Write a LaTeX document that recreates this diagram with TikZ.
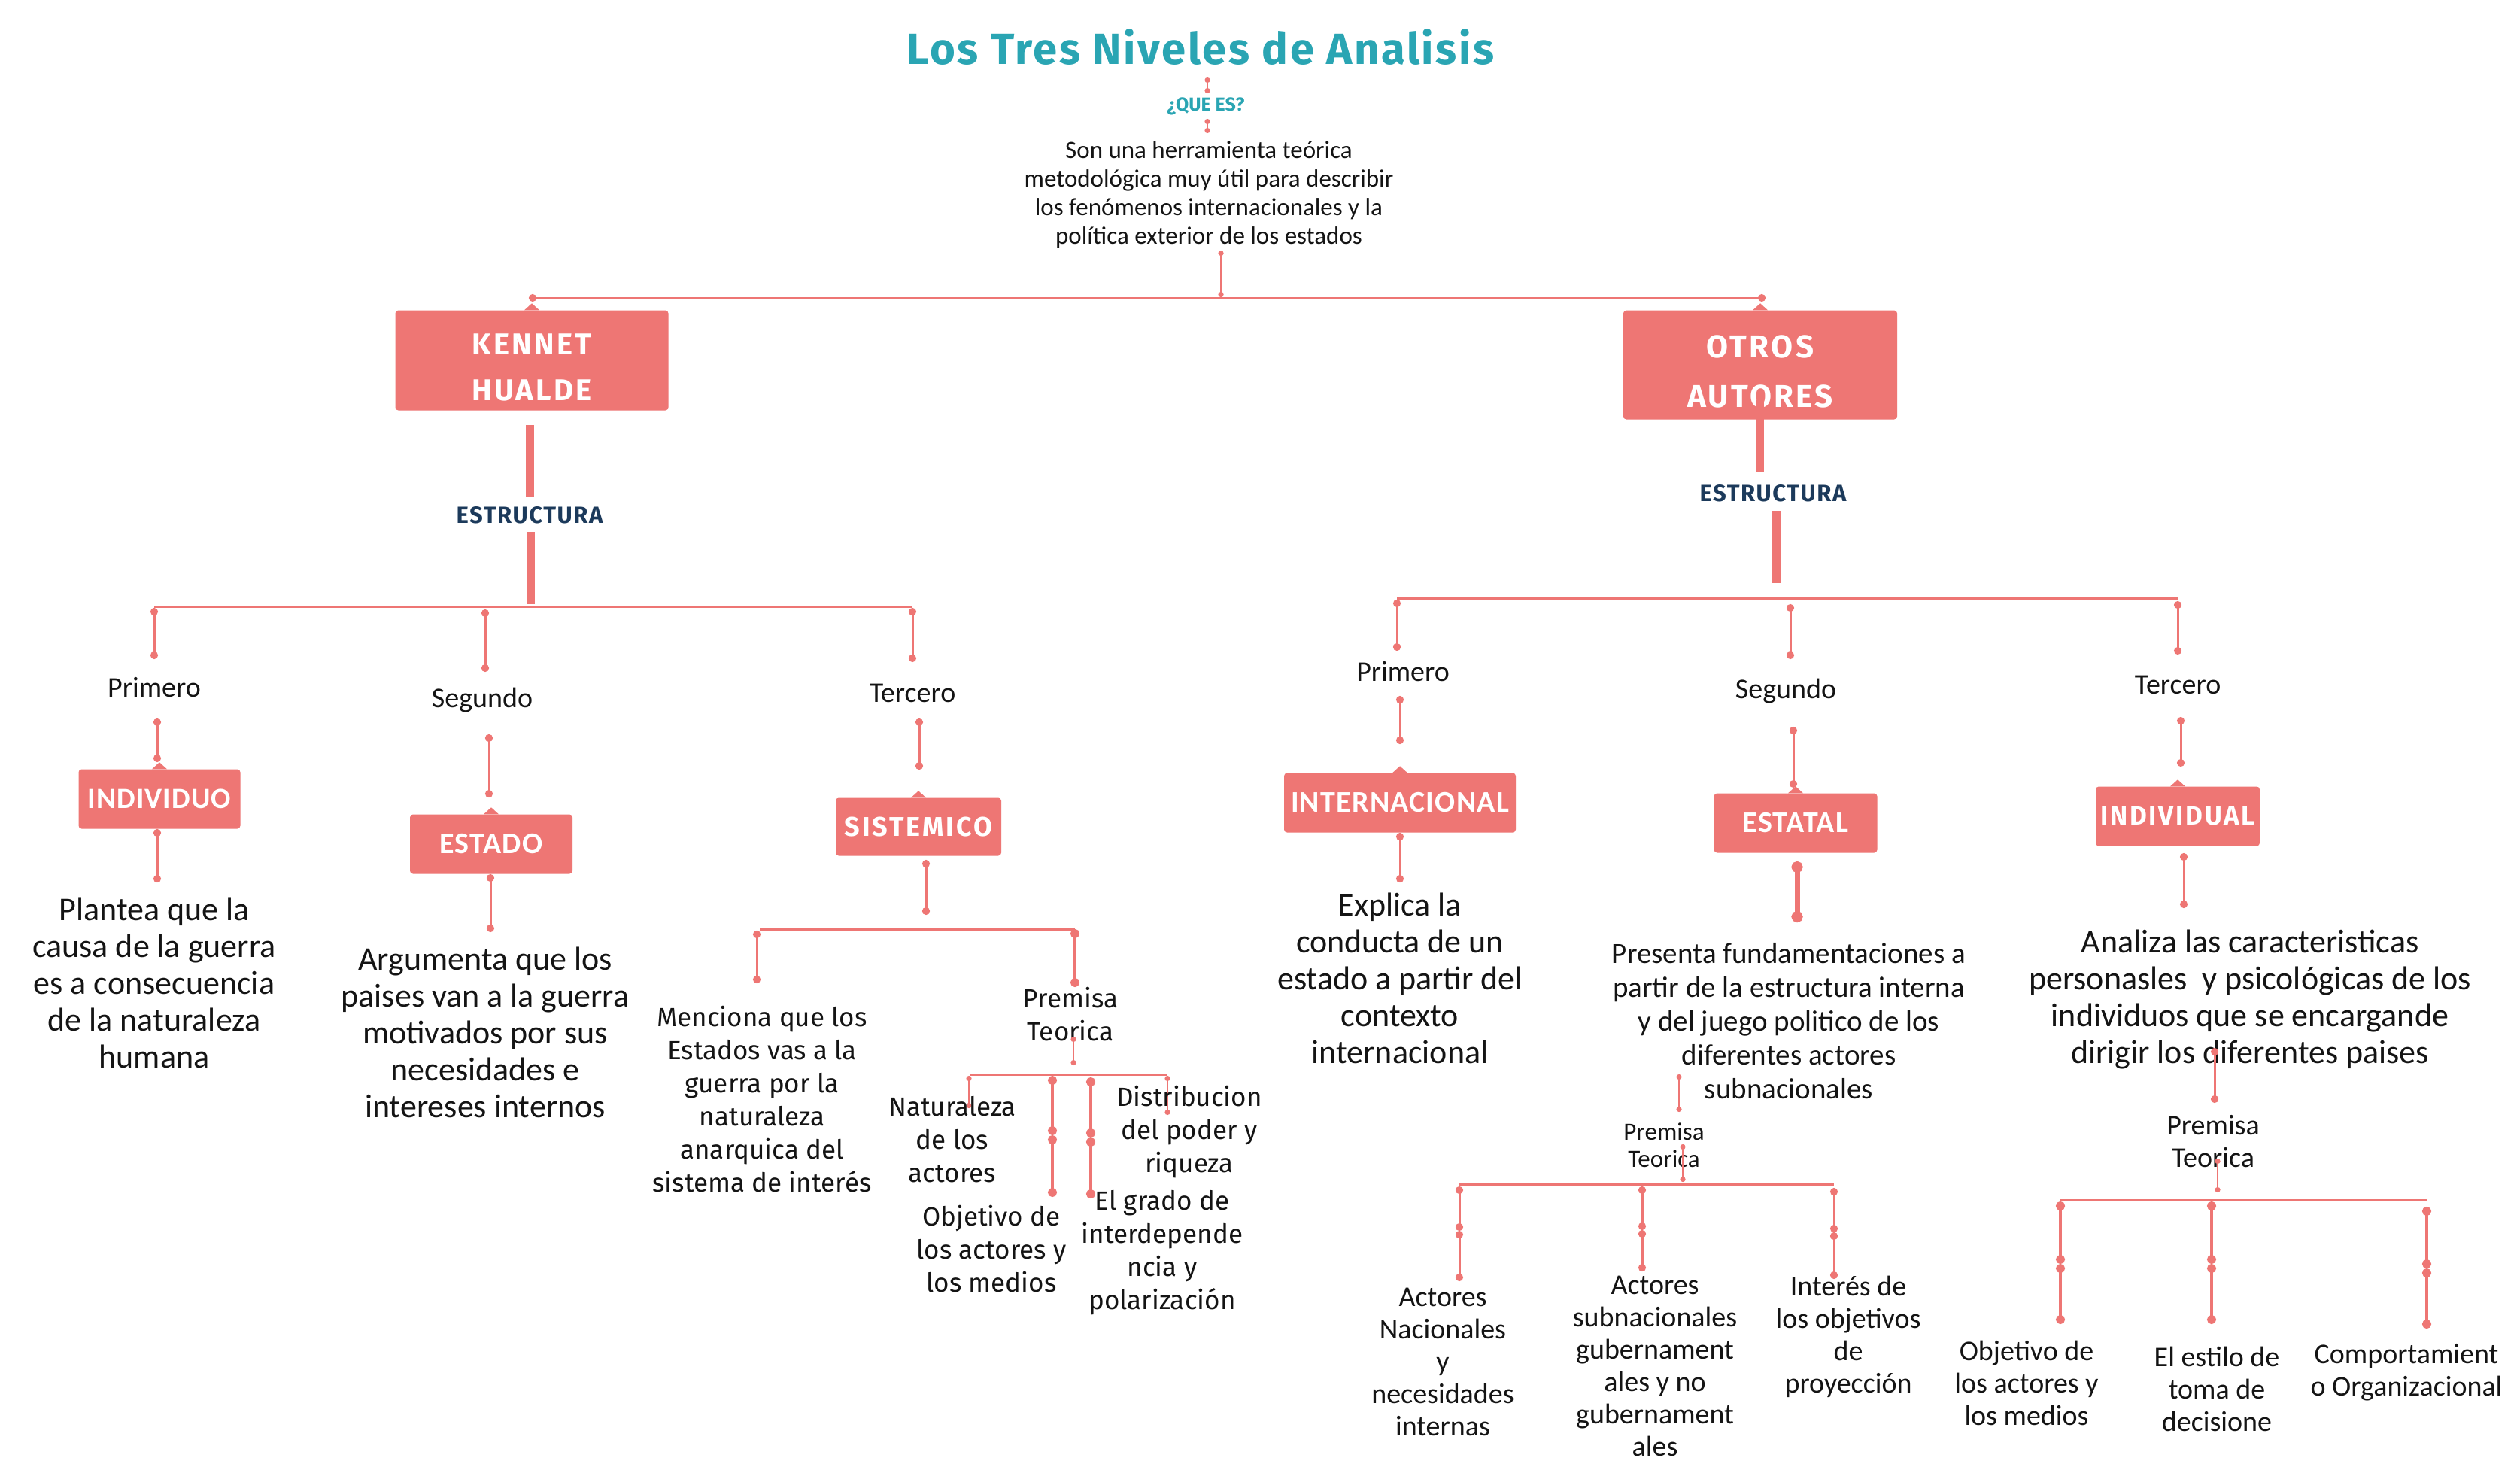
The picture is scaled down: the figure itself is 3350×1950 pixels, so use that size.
\documentclass[tikz,border=0pt]{standalone}
\usepackage{fontspec}
\setmainfont{Carlito}
\newfontfamily\firaf{Fira Sans}
\newfontfamily\firatitle{Fira Sans}[LetterSpace=4.5]
\newfontfamily\firasp{Fira Sans}[LetterSpace=8]
\newfontfamily\firasq{Fira Sans}[LetterSpace=5]
\newfontfamily\carsp{Carlito}[LetterSpace=3]
\usetikzlibrary{arrows.meta}
\definecolor{salmon}{HTML}{EE7674}
\definecolor{ttlteal}{HTML}{2AA5B3}
\definecolor{estnavy}{HTML}{1C3A5B}
\definecolor{ink}{HTML}{141414}
\newcommand\boxnotch[1]{\fill[salmon] ([xshift=-10pt]#1.north) -- ([xshift=10pt]#1.north) -- ([yshift=9pt]#1.north) -- cycle;}
\tikzset{
  conn/.style={draw=salmon, line width=3pt, {Circle[length=10pt,width=10pt]}-{Circle[length=10pt,width=10pt]}},
  connthin/.style={draw=salmon, line width=2pt, {Circle[length=7pt,width=7pt]}-{Circle[length=7pt,width=7pt]}},
  connmid/.style={draw=salmon, line width=4pt, {Circle[length=12pt,width=12pt]}-{Circle[length=12pt,width=12pt]}},
  connthick/.style={draw=salmon, line width=7pt, {Circle[length=15pt,width=15pt]}-{Circle[length=15pt,width=15pt]}},
  hline/.style={draw=salmon, line width=3pt},
  hlinethick/.style={draw=salmon, line width=5pt},
  bar/.style={draw=salmon, line width=11pt},
  redbox/.style={fill=salmon, rounded corners=4pt, text=white, inner sep=0pt, align=center},
  boxlbl/.style={text=white, inner sep=0pt, align=center},
  txt/.style={align=center, inner sep=0pt, text=ink},
  bodytxt/.style={txt, font=\fontsize{44}{49}\selectfont},
  lbltxt/.style={txt, font=\fontsize{38}{43}\selectfont},
  widetxt/.style={txt, font=\firaf\fontsize{35}{44}\selectfont},
  esttxt/.style={inner sep=0pt, text=estnavy, font=\firasq\bfseries\fontsize{31}{33}\selectfont},
}
\begin{document}
\begin{tikzpicture}[x=1pt,y=-1pt]
\fill[white] (0,0) rectangle (3350,1950);
\useasboundingbox (0,0) rectangle (3350,1950);

% ---------- title ----------
\node[inner sep=0pt, text=ttlteal, font=\firatitle\bfseries\fontsize{58}{62}\selectfont] (title) at (1596,62) {Los Tres Niveles de Analisis};
\coordinate (t1) at (1605,103); \coordinate (t2) at (1605,124);
\draw[connthin] (t1) -- (t2);
\node[inner sep=0pt, text=ttlteal, font=\firaf\bfseries\fontsize{25}{27}\selectfont] (quees) at (1603,141) {¿QUE ES?};
\coordinate (q1) at (1605,158); \coordinate (q2) at (1605,177);
\draw[connthin] (q1) -- (q2);
\node[txt, font=\fontsize{33}{38}\selectfont] (desc) at (1607,259) {Son una herramienta teórica\\metodológica muy útil para describir\\los fenómenos internacionales y la\\política exterior de los estados};
\coordinate (d1) at (1623,333); \coordinate (d2) at (1623,395);
\draw[connthin] (d1) -- (d2);
\coordinate (h0L) at (703,396); \coordinate (h0R) at (2347,396);
\draw[conn] (h0L) -- (h0R);

% ---------- main boxes ----------
\node[redbox, minimum width=363pt, minimum height=133pt] (kennet) at (707,479) {};
\boxnotch{kennet}
\node[boxlbl, font=\firasp\bfseries\fontsize{40}{61}\selectfont] (kennetlbl) at (707,488) {KENNET\\HUALDE};
\node[redbox, minimum width=364pt, minimum height=145pt] (otros) at (2340,485) {};
\boxnotch{otros}
\node[boxlbl, font=\firasp\bfseries\fontsize{42}{66}\selectfont] (otroslbl) at (2340,494) {OTROS\\AUTORES};

\coordinate (kb1) at (704,565); \coordinate (kb2) at (704,660);
\draw[bar] (kb1) -- (kb2);
\node[esttxt] (est1) at (704,685) {ESTRUCTURA};
\coordinate (kb3) at (705,707); \coordinate (kb4) at (705,803);
\draw[bar] (kb3) -- (kb4);

\coordinate (ob1) at (2339,532); \coordinate (ob2) at (2339,628);
\draw[bar] (ob1) -- (ob2);
\node[esttxt] (est2) at (2357,656) {ESTRUCTURA};
\coordinate (ob3) at (2361,679); \coordinate (ob4) at (2361,775);
\draw[bar] (ob3) -- (ob4);

% ---------- left tree ----------
\coordinate (lh0) at (205,806); \coordinate (lh1) at (1213,806);
\draw[hline] (lh0) -- (lh1);

% branch 1
\coordinate (a1) at (205,808); \coordinate (a2) at (205,876);
\draw[conn] (a1) -- (a2);
\node[lbltxt] (prim1) at (205,914) {Primero};
\coordinate (a3) at (209,955); \coordinate (a4) at (209,1013);
\draw[conn] (a3) -- (a4);
\node[redbox, minimum width=215pt, minimum height=79pt, font=\carsp\bfseries\fontsize{39}{44}\selectfont] (indiv) at (212,1062) {INDIVIDUO};
\boxnotch{indiv}
\coordinate (a5) at (209,1102); \coordinate (a6) at (209,1173);
\draw[conn] (a5) -- (a6);
\node[bodytxt] (plantea) at (205,1306) {Plantea que la\\causa de la guerra\\es a consecuencia\\de la naturaleza\\humana};

% branch 2
\coordinate (b1) at (645,810); \coordinate (b2) at (645,893);
\draw[conn] (b1) -- (b2);
\node[lbltxt] (seg1) at (641,931) {Segundo};
\coordinate (b3) at (650,976); \coordinate (b4) at (650,1060);
\draw[conn] (b3) -- (b4);
\node[redbox, minimum width=216pt, minimum height=79pt, font=\carsp\bfseries\fontsize{40}{44}\selectfont] (estado) at (653,1122) {ESTADO};
\boxnotch{estado}
\coordinate (b5) at (652,1162); \coordinate (b6) at (652,1239);
\draw[conn] (b5) -- (b6);
\node[bodytxt] (argumenta) at (645,1372) {Argumenta que los\\paises van a la guerra\\motivados por sus\\necesidades e\\intereses internos};

% branch 3
\coordinate (c1) at (1213,808); \coordinate (c2) at (1213,880);
\draw[conn] (c1) -- (c2);
\node[lbltxt] (ter1) at (1213,921) {Tercero};
\coordinate (c3) at (1222,955); \coordinate (c4) at (1222,1023);
\draw[conn] (c3) -- (c4);
\node[redbox, minimum width=220pt, minimum height=77pt, font=\firasp\bfseries\fontsize{36}{40}\selectfont] (sist) at (1221,1099) {SISTEMICO};
\boxnotch{sist}
\coordinate (c5) at (1231,1143); \coordinate (c6) at (1231,1216);
\draw[conn] (c5) -- (c6);
\coordinate (sh0) at (1010,1235); \coordinate (sh1) at (1429,1235);
\draw[hlinethick] (sh0) -- (sh1);
\coordinate (c7) at (1006,1237); \coordinate (c8) at (1006,1307);
\draw[conn] (c7) -- (c8);
\coordinate (c9) at (1429,1235); \coordinate (c10) at (1429,1312);
\draw[connmid] (c9) -- (c10);
\node[widetxt] (menciona) at (1013,1461) {Menciona que los\\Estados vas a la\\guerra por la\\naturaleza\\anarquica del\\sistema de interés};
\node[widetxt] (prem1) at (1423,1348) {Premisa\\Teorica};
\coordinate (c11) at (1427,1378); \coordinate (c12) at (1427,1416);
\draw[connthin] (c11) -- (c12);
\coordinate (ph0) at (1290,1428); \coordinate (ph1) at (1552,1428);
\draw[hline] (ph0) -- (ph1);
\coordinate (p1a) at (1288,1430); \coordinate (p1b) at (1288,1473);
\draw[connthin] (p1a) -- (p1b);
\coordinate (p2a) at (1399,1430); \coordinate (p2m) at (1399,1509); \coordinate (p2b) at (1399,1591);
\draw[connmid] (p2a) -- (p2m); \draw[connmid] (p2m) -- (p2b);
\coordinate (p3a) at (1450,1432); \coordinate (p3m) at (1450,1512); \coordinate (p3b) at (1450,1593);
\draw[connmid] (p3a) -- (p3m); \draw[connmid] (p3m) -- (p3b);
\coordinate (p4a) at (1552,1430); \coordinate (p4b) at (1552,1482);
\draw[connthin] (p4a) -- (p4b);
\node[widetxt] (natur) at (1266,1515) {Naturaleza\\de los\\actores};
\node[widetxt] (distrib) at (1581,1505) {Distribucion\\del poder y\\riqueza};
\node[widetxt] (objet1) at (1318,1660) {Objetivo de\\los actores y\\los medios};
\node[widetxt] (grado) at (1545,1665) {El grado de\\interdepende\\ncia y\\polarización};

% ---------- right tree ----------
\coordinate (rh0) at (1857,795); \coordinate (rh1) at (2895,795);
\draw[hline] (rh0) -- (rh1);

% branch R1
\coordinate (r1) at (1857,797); \coordinate (r2) at (1857,865);
\draw[conn] (r1) -- (r2);
\node[lbltxt] (prim2) at (1865,893) {Primero};
\coordinate (r3) at (1861,925); \coordinate (r4) at (1861,989);
\draw[conn] (r3) -- (r4);
\node[redbox, minimum width=308pt, minimum height=79pt, font=\carsp\bfseries\fontsize{40}{44}\selectfont] (internac) at (1861,1067) {INTERNACIONAL};
\boxnotch{internac}
\coordinate (r5) at (1861,1107); \coordinate (r6) at (1861,1173);
\draw[conn] (r5) -- (r6);
\node[bodytxt] (explica) at (1861,1300) {Explica la\\conducta de un\\estado a partir del\\contexto\\internacional};

% branch R2
\coordinate (s1) at (2380,803); \coordinate (s2) at (2380,876);
\draw[conn] (s1) -- (s2);
\node[lbltxt] (seg2) at (2374,919) {Segundo};
\coordinate (s3) at (2384,966); \coordinate (s4) at (2384,1047);
\draw[conn] (s3) -- (s4);
\node[redbox, minimum width=217pt, minimum height=79pt, font=\carsp\bfseries\fontsize{40}{44}\selectfont] (estatal) at (2387,1094) {ESTATAL};
\boxnotch{estatal}
\coordinate (s5) at (2389,1145); \coordinate (s6) at (2389,1226);
\draw[connthick] (s5) -- (s6);
\node[txt, font=\fontsize{39}{45}\selectfont] (presenta) at (2378,1357) {Presenta fundamentaciones a\\partir de la estructura interna\\y del juego politico de los\\diferentes actores\\subnacionales};
\coordinate (s7) at (2232,1428); \coordinate (s8) at (2232,1478);
\draw[connthin] (s7) -- (s8);
\node[txt, font=\fontsize{33}{36}\selectfont] (prem2) at (2212,1522) {Premisa\\Teorica};
\coordinate (s9) at (2237,1521); \coordinate (s10) at (2237,1571);
\draw[connthin] (s9) -- (s10);
\coordinate (qh0) at (1940,1574); \coordinate (qh1) at (2438,1574);
\draw[hline] (qh0) -- (qh1);
\coordinate (q1a) at (1940,1577); \coordinate (q1m) at (1940,1636); \coordinate (q1b) at (1940,1703);
\draw[conn] (q1a) -- (q1m); \draw[conn] (q1m) -- (q1b);
\coordinate (q2a) at (2183,1577); \coordinate (q2m) at (2183,1635); \coordinate (q2b) at (2183,1690);
\draw[conn] (q2a) -- (q2m); \draw[conn] (q2m) -- (q2b);
\coordinate (q3a) at (2438,1579); \coordinate (q3m) at (2438,1638); \coordinate (q3b) at (2438,1700);
\draw[conn] (q3a) -- (q3m); \draw[conn] (q3m) -- (q3b);
\node[lbltxt] (actnac) at (1918,1810) {Actores\\Nacionales\\y\\necesidades\\internas};
\node[lbltxt] (actsub) at (2200,1816) {Actores\\subnacionales\\gubernament\\ales y no\\gubernament\\ales};
\node[lbltxt] (interes) at (2457,1777) {Interés de\\los objetivos\\de\\proyección};

% branch R3
\coordinate (u1) at (2895,799); \coordinate (u2) at (2895,870);
\draw[conn] (u1) -- (u2);
\node[lbltxt] (ter2) at (2895,910) {Tercero};
\coordinate (u3) at (2899,953); \coordinate (u4) at (2899,1019);
\draw[conn] (u3) -- (u4);
\node[redbox, minimum width=218pt, minimum height=79pt, font=\firasp\bfseries\fontsize{35}{40}\selectfont] (individual) at (2895,1085) {INDIVIDUAL};
\boxnotch{individual}
\coordinate (u5) at (2903,1134); \coordinate (u6) at (2903,1207);
\draw[conn] (u5) -- (u6);
\node[bodytxt] (analiza) at (2991,1328) {Analiza las caracteristicas\\personasles\ \ y psicológicas de los\\individuos que se encargande\\dirigir los diferentes paises};
\coordinate (u7) at (2944,1393); \coordinate (u8) at (2944,1466);
\draw[conn] (u7) -- (u8);
\node[lbltxt] (prem3) at (2942,1517) {Premisa\\Teorica};
\coordinate (u9) at (2948,1540); \coordinate (u10) at (2948,1585);
\draw[connthin] (u9) -- (u10);
\coordinate (vh0) at (2739,1595); \coordinate (vh1) at (3226,1595);
\draw[hline] (vh0) -- (vh1);
\coordinate (v1a) at (2739,1597); \coordinate (v1m) at (2739,1680); \coordinate (v1b) at (2739,1760);
\draw[connmid] (v1a) -- (v1m); \draw[connmid] (v1m) -- (v1b);
\coordinate (v2a) at (2940,1597); \coordinate (v2m) at (2940,1680); \coordinate (v2b) at (2940,1760);
\draw[connmid] (v2a) -- (v2m); \draw[connmid] (v2m) -- (v2b);
\coordinate (v3a) at (3226,1604); \coordinate (v3m) at (3226,1686); \coordinate (v3b) at (3226,1766);
\draw[connmid] (v3a) -- (v3m); \draw[connmid] (v3m) -- (v3b);
\node[lbltxt] (objet2) at (2694,1838) {Objetivo de\\los actores y\\los medios};
\node[lbltxt] (estilo) at (2947,1846) {El estilo de\\toma de\\decisione};
\node[lbltxt] (comport) at (3199,1824) {Comportamient\\o Organizacional};
\end{tikzpicture}
\end{document}
